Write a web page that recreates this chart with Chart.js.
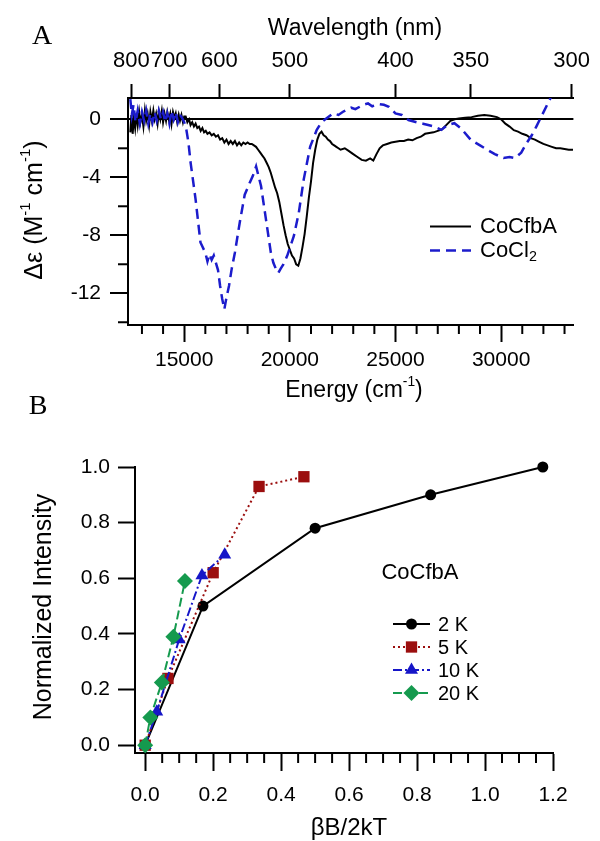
<!DOCTYPE html>
<html>
<head>
<meta charset="utf-8">
<script src="https://cdn.jsdelivr.net/npm/chart.js@4.4.0/dist/chart.umd.min.js"></script>
<style>
  body { margin: 0; background: #fff; }
  #wrap { position: relative; width: 600px; height: 841px; font-family: "Liberation Sans", Arial, sans-serif; color: #000; }
  canvas { position: absolute; left: 0; }
  #cA { top: 0; }
  #cB { top: 400px; }
  .t { position: absolute; white-space: nowrap; line-height: 1; transform: translate(-50%, -50%); }
  .l { position: absolute; white-space: nowrap; line-height: 1; transform: translateY(-50%); }
  .rot { transform: translate(-50%, -50%) rotate(-90deg); }
  .serif { font-family: "Liberation Serif", "Times New Roman", serif; }
  sup { font-size: 60%; vertical-align: 0.75em; line-height: 0; }
  sub { font-size: 65%; vertical-align: -0.3em; line-height: 0; }
</style>
</head>
<body>
<div id="wrap">
  <canvas id="cA" width="600" height="400"></canvas>
  <canvas id="cB" width="600" height="441"></canvas>

  <div class="t serif" style="left:42px; top:35px; font-size:28px;">A</div>
  <div class="t" style="left:355px; top:27px; font-size:23px;">Wavelength (nm)</div>
  <div class="t" style="left:354px; top:389px; font-size:23px;">Energy (cm<sup>-1</sup>)</div>
  <div class="t rot" style="left:33px; top:210px; font-size:25px;">&Delta;&epsilon; (M<sup>-1</sup> cm<sup>-1</sup>)</div>
  <div class="l" style="left:480px; top:226px; font-size:22px;">CoCfbA</div>
  <div class="l" style="left:480px; top:250px; font-size:22px;">CoCl<sub>2</sub></div>

  <div class="t serif" style="left:38px; top:405px; font-size:28px;">B</div>
  <div class="t rot" style="left:42px; top:607px; font-size:25px;">Normalized Intensity</div>
  <div class="t" style="left:349px; top:827px; font-size:24px;">&beta;B/2kT</div>
  <div class="t" style="left:420px; top:572px; font-size:22px;">CoCfbA</div>
  <div class="l" style="left:438px; top:624px; font-size:20px;">2 K</div>
  <div class="l" style="left:438px; top:647px; font-size:20px;">5 K</div>
  <div class="l" style="left:438px; top:670px; font-size:20px;">10 K</div>
  <div class="l" style="left:438px; top:693px; font-size:20px;">20 K</div>
</div>

<script>
// ---- panel A : CD spectra (energy in cm-1, delta epsilon) ----
const cfbaEnergy = [12450,12500,12560,12620,12680,12740,12800,12870,12930,13000,13070,13140,13200,13270,13340,13400,13470,13540,13600,13670,13740,13800,13870,13940,14000,14070,14140,14200,14270,14340,14400,14470,14540,14600,14670,14740,14800,14870,14940,15000,15070,15150,15230,15300,15380,15460,15540,15620,15700,15780,15860,15940,16020,16100,16200,16300,16400,16500,16600,16700,16800,16900,17000,17100,17200,17300,17400,17500,17600,17700,17800,17900,18000,18100,18200,18300,18400,18500,18600,18700,18800,18900,19000,19100,19200,19300,19400,19500,19600,19700,19800,19900,20000,20100,20200,20300,20400,20500,20600,20700,20800,20900,21000,21100,21200,21300,21400,21500,21600,21700,21800,21900,22000,22100,22200,22300,22400,22600,22800,23000,23200,23400,23600,23800,23950,24100,24250,24400,24600,24800,25000,25200,25400,25600,25800,26000,26200,26400,26600,26800,27000,27200,27400,27600,27800,28000,28300,28600,28900,29200,29500,29800,30000,30200,30400,30600,30800,31000,31200,31400,31600,31800,32000,32200,32400,32600,32800,33000,33200,33400];
const cfbaDelta = [-0.9,0.3,-1.0,0.1,-0.6,0.4,-0.4,0.5,-0.2,0.3,-0.5,0.6,-0.1,0.4,-0.4,0.5,-0.1,0.6,0.0,0.4,-0.3,0.5,0.0,0.6,-0.2,0.4,-0.1,0.5,0.0,0.4,-0.3,0.5,0.1,0.4,-0.2,0.3,-0.1,0.3,-0.2,0.2,0.2,-0.2,0.0,-0.4,-0.2,-0.5,-0.3,-0.6,-0.5,-0.8,-0.6,-0.9,-0.8,-1.0,-0.9,-1.1,-1.0,-1.2,-1.1,-1.4,-1.3,-1.6,-1.4,-1.7,-1.5,-1.7,-1.5,-1.8,-1.6,-1.8,-1.6,-1.7,-1.6,-1.7,-1.7,-1.8,-1.9,-2.1,-2.3,-2.5,-2.7,-3.0,-3.3,-3.7,-4.2,-4.7,-5.1,-5.7,-6.5,-7.3,-8.0,-8.6,-9.0,-9.4,-9.6,-10.0,-10.1,-9.6,-8.8,-7.9,-6.7,-5.4,-4.3,-3.0,-2.1,-1.4,-1.0,-0.85,-1.1,-1.2,-1.4,-1.5,-1.7,-1.8,-1.9,-2.0,-2.1,-2.0,-2.2,-2.4,-2.6,-2.8,-2.85,-2.7,-2.85,-2.4,-2.0,-1.8,-1.7,-1.6,-1.55,-1.5,-1.5,-1.4,-1.45,-1.3,-1.2,-1.0,-0.95,-0.9,-0.8,-0.7,-0.4,-0.1,0.0,0.05,0.1,0.15,0.25,0.3,0.25,0.15,0.0,-0.3,-0.5,-0.75,-0.85,-1.0,-1.1,-1.3,-1.4,-1.55,-1.7,-1.8,-1.9,-2.0,-2.0,-2.05,-2.1,-2.1];

const cl2Energy = [12450,12520,12600,12700,12800,12900,13000,13100,13200,13300,13400,13500,13600,13700,13800,13900,14000,14100,14200,14300,14400,14500,14600,14700,14800,14900,15000,15100,15200,15304,15537,15770,16000,16100,16200,16300,16400,16500,16600,16700,16800,16900,17000,17119,17250,17398,17631,17864,18096,18250,18403,18636,18869,19101,19220,19334,19450,19567,19700,19878,20190,20423,20655,20963,21274,21500,21740,22052,22300,22517,22670,22900,23100,23448,23700,23900,24220,24450,24686,24997,25300,25616,26000,26300,26547,26850,27170,27450,27789,28100,28565,29000,29338,29700,30115,30400,30660,30950,31200,31450,31665,31977,32363,32500];
const cl2Delta = [1.4,0.3,1.0,-0.2,0.6,-0.3,0.5,-0.1,0.6,-0.3,0.4,-0.2,0.5,-0.1,0.6,0.0,0.5,-0.2,0.4,-0.3,0.6,0.0,0.5,-0.2,0.3,0.1,-0.2,-0.7,-1.6,-3.0,-5.5,-8.5,-9.2,-9.8,-9.3,-9.7,-9.4,-9.9,-10.4,-11.5,-12.4,-13.1,-12.3,-11.5,-10.3,-9.2,-7.1,-5.2,-4.4,-3.9,-3.25,-4.6,-6.9,-9.2,-9.9,-10.3,-10.6,-10.3,-10.0,-9.4,-8.05,-6.45,-4.16,-1.88,-0.73,-0.2,0.07,0.41,0.3,0.52,0.64,0.8,0.7,0.98,1.1,0.9,1.05,1.0,0.86,0.41,0.3,-0.05,-0.2,-0.3,-0.39,-0.5,-0.73,-0.4,-0.27,-0.62,-1.42,-1.8,-2.1,-2.4,-2.67,-2.6,-2.67,-2.3,-1.65,-1.1,-0.5,0.41,1.55,2.2];

const energyTicks = [15000, 20000, 25000, 30000];
const energyMinor = [13000,14000,16000,17000,18000,19000,21000,22000,23000,24000,26000,27000,28000,29000,31000,32000,33000];
const waveTicks = [800, 700, 600, 500, 400, 350, 300];
const deltaTicks = [-12, -8, -4, 0];
const deltaMinor = [-14, -10, -6, -2];

// ---- panel B : saturation curves ----
const t2kX = [0, 0.17, 0.5, 0.84, 1.17];
const t2kY = [0, 0.5, 0.78, 0.9, 1.0];
const t5kX = [0, 0.067, 0.2, 0.335, 0.467];
const t5kY = [0, 0.24, 0.62, 0.93, 0.965];
const t10kX = [0, 0.034, 0.1, 0.167, 0.234];
const t10kY = [0, 0.12, 0.38, 0.61, 0.685];
const t20kX = [0, 0.015, 0.049, 0.083, 0.117];
const t20kY = [0, 0.1, 0.225, 0.39, 0.59];

const betaTicks = [0, 0.2, 0.4, 0.6, 0.8, 1.0, 1.2];
const betaMinor = [0.05,0.1,0.15,0.25,0.3,0.35,0.45,0.5,0.55,0.65,0.7,0.75,0.85,0.9,0.95,1.05,1.1,1.15];
const intensityTicks = [0, 0.2, 0.4, 0.6, 0.8, 1.0];

const FONT = { family: '"Liberation Sans", Arial, sans-serif', size: 21 };
const FONT_TOP = { family: '"Liberation Sans", Arial, sans-serif', size: 22 };
const BLUE = '#1c1ccc';
const RED = '#9b0e0e';
const BLUE_B = '#1616c8';
const GREEN = '#159a4e';

function pts(xs, ys) {
    return xs.map((x, i) => ({ x: x, y: ys[i] }));
}

function fixTicks(list) {
    return s => { s.ticks = list.map(v => ({ value: v })); };
}

// short ticks between the labelled ones
function minorPlugin(list) {
    return {
        id: 'minor',
        afterDraw(chart) {
            const ctx = chart.ctx;
            ctx.save();
            ctx.strokeStyle = '#000';
            ctx.lineWidth = 2;
            list.forEach(m => {
                const s = chart.scales[m.axis];
                m.values.forEach(v => {
                    const p = s.getPixelForValue(v);
                    ctx.beginPath();
                    if (s.isHorizontal()) {
                        ctx.moveTo(p, s.top);
                        ctx.lineTo(p, s.top + m.len);
                    } else {
                        ctx.moveTo(s.right, p);
                        ctx.lineTo(s.right - m.len, p);
                    }
                    ctx.stroke();
                });
            });
            ctx.restore();
        }
    };
}

// legend samples drawn from the dataset styles
function legendPlugin(rows) {
    return {
        id: 'legendSamples',
        afterDraw(chart) {
            const ctx = chart.ctx;
            rows.forEach(r => {
                const ds = chart.data.datasets[r.index];
                ctx.save();
                ctx.strokeStyle = ds.borderColor;
                ctx.lineWidth = ds.borderWidth;
                ctx.setLineDash(ds.borderDash || []);
                ctx.beginPath();
                ctx.moveTo(r.x0, r.y);
                ctx.lineTo(r.x1, r.y);
                ctx.stroke();
                ctx.setLineDash([]);
                if (ds.pointRadius > 0) {
                    ctx.fillStyle = ds.pointBackgroundColor;
                    ctx.strokeStyle = ds.pointBackgroundColor;
                    Chart.helpers.drawPoint(ctx, { pointStyle: ds.pointStyle, radius: ds.pointRadius, rotation: 0, borderWidth: 0 }, (r.x0 + r.x1) / 2, r.y);
                }
                ctx.restore();
            });
        }
    };
}

const axisBorder = { color: '#000', width: 2 };

new Chart(document.getElementById('cA'), {
    type: 'scatter',
    data: {
        datasets: [
            {
                label: 'CoCfbA', data: pts(cfbaEnergy, cfbaDelta), showLine: true,
                borderColor: '#000', borderWidth: 2, pointRadius: 0, order: 1
            },
            {
                label: 'CoCl2', data: pts(cl2Energy, cl2Delta), showLine: true,
                borderColor: BLUE, borderWidth: 2.5, borderDash: [10, 6], pointRadius: 0, order: 0
            }
        ]
    },
    options: {
        responsive: false, animation: false, devicePixelRatio: 1,
        layout: { padding: { left: 0, right: 19, top: 0, bottom: 0 } },
        plugins: { legend: { display: false }, tooltip: { enabled: false } },
        scales: {
            x: {
                type: 'linear', position: 'bottom', min: 12340, max: 33420,
                afterFit: s => { s.height = 75; },
                afterBuildTicks: fixTicks(energyTicks),
                border: axisBorder,
                grid: { drawOnChartArea: false, tickLength: 17, tickWidth: 2, tickColor: '#000' },
                ticks: { color: '#000', font: FONT, padding: 6, autoSkip: false, maxRotation: 0, callback: v => String(v) }
            },
            xTop: {
                type: 'linear', position: 'top', min: 12340, max: 33420,
                afterFit: s => { s.height = 98; },
                afterBuildTicks: fixTicks(waveTicks.map(w => 1e7 / w)),
                border: axisBorder,
                grid: { drawOnChartArea: false, tickLength: 14, tickWidth: 2, tickColor: '#000' },
                ticks: { color: '#000', font: FONT_TOP, padding: 10, autoSkip: false, maxRotation: 0, callback: v => String(Math.round(1e7 / v)) }
            },
            y: {
                min: -14.19, max: 1.47,
                afterFit: s => { s.width = 128; },
                afterBuildTicks: fixTicks(deltaTicks),
                border: axisBorder,
                grid: {
                    drawOnChartArea: true,
                    color: c => (c.tick && c.tick.value === 0) ? '#000' : 'rgba(0,0,0,0)',
                    lineWidth: 2, tickLength: 18, tickWidth: 2, tickColor: '#000'
                },
                ticks: { color: '#000', font: FONT, padding: 9, callback: v => String(v) }
            }
        }
    },
    plugins: [
        minorPlugin([
            { axis: 'x', values: energyMinor, len: 9 },
            { axis: 'y', values: deltaMinor, len: 10 }
        ]),
        legendPlugin([
            { index: 0, x0: 430, x1: 471, y: 226.5 },
            { index: 1, x0: 430, x1: 471, y: 250.5 }
        ])
    ]
});

new Chart(document.getElementById('cB'), {
    type: 'scatter',
    data: {
        datasets: [
            {
                label: '2 K', data: pts(t2kX, t2kY), showLine: true, clip: false,
                borderColor: '#000', borderWidth: 2, pointStyle: 'circle', pointRadius: 5.5,
                pointBackgroundColor: '#000', pointBorderWidth: 0, order: 3
            },
            {
                label: '5 K', data: pts(t5kX, t5kY), showLine: true, clip: false,
                borderColor: RED, borderWidth: 2, borderDash: [2, 3], pointStyle: 'rect', pointRadius: 8,
                pointBackgroundColor: RED, pointBorderWidth: 0, order: 2
            },
            {
                label: '10 K', data: pts(t10kX, t10kY), showLine: true, clip: false,
                borderColor: BLUE_B, borderWidth: 2, borderDash: [9, 3, 2, 3], pointStyle: 'triangle', pointRadius: 7.5,
                pointBackgroundColor: BLUE_B, pointBorderWidth: 0, order: 1
            },
            {
                label: '20 K', data: pts(t20kX, t20kY), showLine: true, clip: false,
                borderColor: GREEN, borderWidth: 2, borderDash: [9, 4], pointStyle: 'rectRot', pointRadius: 8,
                pointBackgroundColor: GREEN, pointBorderWidth: 0, order: 0
            }
        ]
    },
    options: {
        responsive: false, animation: false, devicePixelRatio: 1,
        layout: { padding: { left: 0, right: 47, top: 67, bottom: 0 } },
        plugins: { legend: { display: false }, tooltip: { enabled: false } },
        scales: {
            x: {
                type: 'linear', position: 'bottom', min: -0.03, max: 1.2,
                afterFit: s => { s.height = 88; },
                afterBuildTicks: fixTicks(betaTicks),
                border: axisBorder,
                grid: { drawOnChartArea: false, tickLength: 18, tickWidth: 2, tickColor: '#000' },
                ticks: { color: '#000', font: FONT, padding: 12, autoSkip: false, maxRotation: 0, callback: v => v.toFixed(1) }
            },
            y: {
                min: -0.028, max: 1.0,
                afterFit: s => { s.width = 135; },
                afterBuildTicks: fixTicks(intensityTicks),
                border: axisBorder,
                grid: { drawOnChartArea: false, tickLength: 17, tickWidth: 2, tickColor: '#000' },
                ticks: { color: '#000', font: FONT, padding: 8, callback: v => v.toFixed(1) }
            }
        }
    },
    plugins: [
        minorPlugin([{ axis: 'x', values: betaMinor, len: 10 }]),
        legendPlugin([
            { index: 0, x0: 393, x1: 430, y: 224 },
            { index: 1, x0: 393, x1: 430, y: 247 },
            { index: 2, x0: 393, x1: 430, y: 270 },
            { index: 3, x0: 393, x1: 430, y: 293 }
        ])
    ]
});
</script>
</body>
</html>
